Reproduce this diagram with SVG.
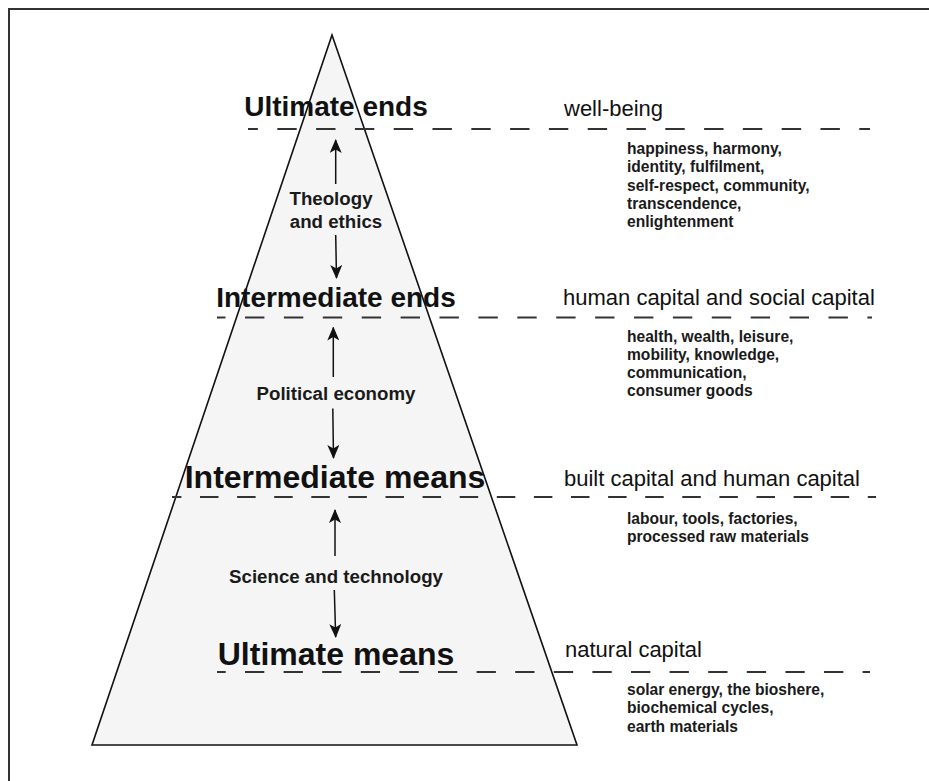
<svg xmlns="http://www.w3.org/2000/svg" width="929" height="781" viewBox="0 0 929 781">
  <style>
    .frame { fill: none; stroke: #333333; stroke-width: 2; }
    .pyramid { fill: #f5f5f5; stroke: #111111; stroke-width: 1.6; stroke-linejoin: miter; }
    .divider { fill: none; stroke: #333333; stroke-width: 2; }
    .level { font-family: "Liberation Sans", Arial, sans-serif; font-weight: bold; fill: #111111; text-anchor: middle; }
    .capital { font-family: "Liberation Sans", Arial, sans-serif; font-size: 22px; fill: #111111; }
    .detail { font-family: "Liberation Sans", Arial, sans-serif; font-weight: bold; font-size: 15.6px; fill: #1a1a1a; }
    .field { font-family: "Liberation Sans", Arial, sans-serif; font-weight: bold; font-size: 18.7px; fill: #1a1a1a; text-anchor: middle; }
    .arrow { fill: none; stroke: #111111; stroke-width: 1.5; marker-end: url(#head); }
  </style>
  <defs>
    <marker id="head" markerUnits="userSpaceOnUse" viewBox="0 0 14 12" markerWidth="14" markerHeight="12" refX="13" refY="6" orient="auto">
      <path d="M0,0 L14,6 L0,12 L3.5,6 Z" fill="#111111"/>
    </marker>
  </defs>

  <!-- outer frame (top and left edges) -->
  <path class="frame" d="M9,781 L9,9 L929,9"/>

  <!-- pyramid -->
  <g id="pyramid">
    <polygon class="pyramid" points="332,35 577,745 92,745"/>
  </g>

  <!-- level headings inside the pyramid -->
  <g id="level-ultimate-ends">
    <text class="level" x="336" y="116" font-size="28">Ultimate ends</text>
  </g>
  <g id="level-intermediate-ends">
    <text class="level" x="336" y="307" font-size="28">Intermediate ends</text>
  </g>
  <g id="level-intermediate-means">
    <text class="level" x="335" y="488" font-size="32">Intermediate means</text>
  </g>
  <g id="level-ultimate-means">
    <text class="level" x="336" y="665" font-size="32">Ultimate means</text>
  </g>

  <!-- dashed level dividers -->
  <g id="dividers">
    <line class="divider" x1="248" y1="129" x2="870" y2="129" stroke-dasharray="19.4 19.4" stroke-dashoffset="9.5"/>
    <line class="divider" x1="217" y1="317.5" x2="872" y2="317.5" stroke-dasharray="19.4 19.5" stroke-dashoffset="10.9"/>
    <line class="divider" x1="172" y1="497" x2="876" y2="497" stroke-dasharray="18.5 18.6" stroke-dashoffset="9.1"/>
    <line class="divider" x1="217" y1="672" x2="870" y2="672" stroke-dasharray="19.3 19.3" stroke-dashoffset="10.6"/>
  </g>

  <!-- disciplines linking the levels -->
  <g id="field-theology">
    <text class="field" x="331" y="205">Theology</text>
    <text class="field" x="336" y="227.5">and ethics</text>
  </g>
  <g id="field-political-economy">
    <text class="field" x="336" y="399.5">Political economy</text>
  </g>
  <g id="field-science">
    <text class="field" x="336" y="582.5">Science and technology</text>
  </g>

  <!-- capital types -->
  <g id="capital-well-being">
    <text class="capital" x="564" y="116">well-being</text>
    <text class="detail" x="627" y="154">happiness, harmony,</text>
    <text class="detail" x="627" y="172.3">identity, fulfilment,</text>
    <text class="detail" x="627" y="190.6">self-respect, community,</text>
    <text class="detail" x="627" y="208.9">transcendence,</text>
    <text class="detail" x="627" y="227.2">enlightenment</text>
  </g>
  <g id="capital-human-social">
    <text class="capital" x="563" y="305">human capital and social capital</text>
    <text class="detail" x="627" y="341.5">health, wealth, leisure,</text>
    <text class="detail" x="627" y="359.5">mobility, knowledge,</text>
    <text class="detail" x="627" y="377.5">communication,</text>
    <text class="detail" x="627" y="395.5">consumer goods</text>
  </g>
  <g id="capital-built-human">
    <text class="capital" x="564" y="486">built capital and human capital</text>
    <text class="detail" x="627" y="523.7">labour, tools, factories,</text>
    <text class="detail" x="627" y="542.2">processed raw materials</text>
  </g>
  <g id="capital-natural">
    <text class="capital" x="565" y="656.5">natural capital</text>
    <text class="detail" x="627" y="695">solar energy, the bioshere,</text>
    <text class="detail" x="627" y="713.3">biochemical cycles,</text>
    <text class="detail" x="627" y="731.6">earth materials</text>
  </g>

  <!-- connectors -->
  <g id="connectors">
    <path class="arrow" d="M335.7,184 L335.7,140"/>
    <path class="arrow" d="M335.7,235 L336.5,278"/>
    <path class="arrow" d="M333.3,377 L333.3,327.5"/>
    <path class="arrow" d="M332.8,408.5 L333.5,458"/>
    <path class="arrow" d="M335,556 L335,510"/>
    <path class="arrow" d="M334.3,590 L335.7,637"/>
  </g>
</svg>
